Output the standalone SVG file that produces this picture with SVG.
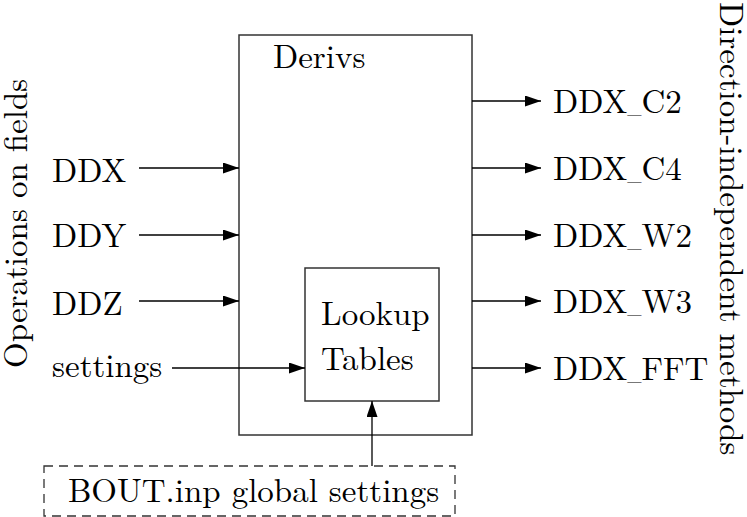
<svg xmlns="http://www.w3.org/2000/svg" width="747" height="517" viewBox="0 0 747 517" font-family="Latin Modern Roman, Liberation Serif, serif" font-size="33">
<style>
.box{fill:none;stroke:#333;stroke-width:1.5}
.dash{fill:none;stroke:#333;stroke-width:1.3;stroke-dasharray:9 6}
.con{stroke:#000;stroke-width:1.3;fill:none}
.us{font-size:19px}
</style>
<defs>
<marker id="ah" markerWidth="16" markerHeight="11" refX="16" refY="5.5" orient="auto" markerUnits="userSpaceOnUse">
<path d="M0,0 L16,5.5 L0,11 Z" fill="#000"/>
</marker>
</defs>
<text transform="translate(27,368) rotate(-90)">Operations on fields</text>
<text transform="translate(720,2) rotate(90)">Direction-independent methods</text>
<g id="derivs">
<rect class="box" x="239" y="35" width="233" height="400"/>
<text x="273" y="68">Derivs</text>
</g>
<g id="lookup">
<rect class="box" x="305" y="268" width="134" height="133"/>
<text x="321" y="325">Lookup</text>
<text x="321" y="370">Tables</text>
</g>
<g id="bout">
<rect class="dash" x="44" y="466" width="411" height="50"/>
<text x="68" y="502">BOUT.inp global settings</text>
</g>
<g id="in-ddx"><text x="52" y="182">DDX</text></g>
<g id="in-ddy"><text x="52" y="247">DDY</text></g>
<g id="in-ddz"><text x="52" y="315">DDZ</text></g>
<g id="in-settings"><text x="52" y="377">settings</text></g>
<g id="out-c2"><text x="553" y="113">DDX<tspan class="us">_</tspan>C2</text></g>
<g id="out-c4"><text x="553" y="180">DDX<tspan class="us">_</tspan>C4</text></g>
<g id="out-w2"><text x="553" y="247">DDX<tspan class="us">_</tspan>W2</text></g>
<g id="out-w3"><text x="553" y="313">DDX<tspan class="us">_</tspan>W3</text></g>
<g id="out-fft"><text x="553" y="380">DDX<tspan class="us">_</tspan>FFT</text></g>
<g id="connectors">
<line class="con" x1="139" y1="168" x2="239" y2="168" marker-end="url(#ah)"/>
<line class="con" x1="139" y1="235" x2="239" y2="235" marker-end="url(#ah)"/>
<line class="con" x1="139" y1="301" x2="239" y2="301" marker-end="url(#ah)"/>
<line class="con" x1="172" y1="368" x2="305" y2="368" marker-end="url(#ah)"/>
<line class="con" x1="472" y1="101" x2="541" y2="101" marker-end="url(#ah)"/>
<line class="con" x1="472" y1="168" x2="541" y2="168" marker-end="url(#ah)"/>
<line class="con" x1="472" y1="235" x2="541" y2="235" marker-end="url(#ah)"/>
<line class="con" x1="472" y1="301" x2="541" y2="301" marker-end="url(#ah)"/>
<line class="con" x1="472" y1="368" x2="541" y2="368" marker-end="url(#ah)"/>
<line class="con" x1="372" y1="466" x2="372" y2="401" marker-end="url(#ah)"/>
</g>
</svg>
